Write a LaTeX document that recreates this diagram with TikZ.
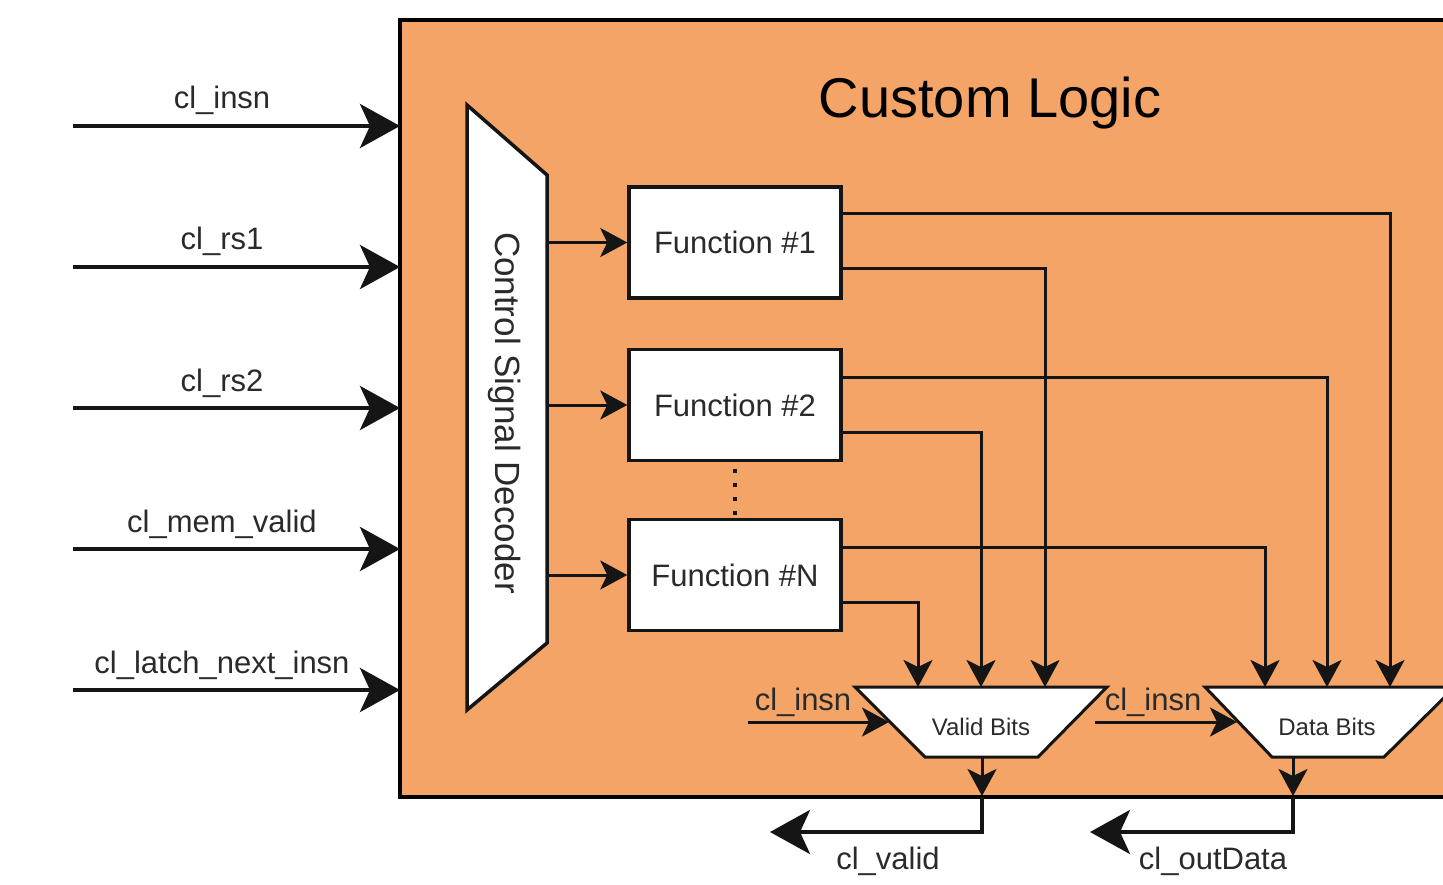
\documentclass[tikz,border=0pt]{standalone}
\usepackage{fontspec}
\setmainfont{Liberation Sans}
\usetikzlibrary{arrows.meta}
\definecolor{logicfill}{HTML}{F4A466}
\definecolor{ink}{HTML}{151515}
\definecolor{txt}{HTML}{2A2A2A}
\newcommand\lblfont{\fontsize{31}{36}\selectfont}
\begin{document}
\begin{tikzpicture}[x=1pt,y=-1pt,
  bigarrow/.style={line width=4.5pt, draw=ink, line join=miter,
    -{Stealth[length=40pt,width=44pt,inset=10pt]}},
  sig/.style={line width=3pt, draw=ink,
    -{Stealth[length=27pt,width=29pt,inset=7pt]}},
  lbl/.style={font=\lblfont, text=txt, anchor=base, inner sep=0pt},
  fbox/.style={draw=ink, line width=3.5pt, fill=white, minimum width=212pt,
    minimum height=111pt, font=\lblfont, text=txt, inner sep=0pt},
  muxshape/.style={draw=ink, line width=3pt, fill=white, line join=miter},
]
\useasboundingbox (0,0) rectangle (1443,885);
\clip (0,0) rectangle (1443,885);

% Custom logic block (runs past the right edge)
\path[fill=logicfill, draw=black, line width=3.5pt] (400,20) rectangle (1480,797);
\coordinate (logicW) at (400,0);
\coordinate (logicS) at (0,797);
\node[font=\fontsize{56}{60}\selectfont, text=black, anchor=base, inner sep=0pt]
  (title) at (990,118) {Custom Logic};

% Input ports on the left
\foreach \k/\y/\t in {1/126/cl\_insn, 2/267/cl\_rs1, 3/408/cl\_rs2,
                       4/549/cl\_mem\_valid, 5/690/cl\_latch\_next\_insn}{
  \coordinate (in\k) at (73,\y);
  \node[lbl] (in\k-lbl) at (222,\y-17) {\t};
  \draw[bigarrow] (in\k) -- (logicW |- in\k);
}

% Control signal decoder
\path[fill=white, draw=ink, line width=3.5pt, line join=miter]
  (467,105) -- (547,175) -- (547,643) -- (467,710) -- cycle;
\coordinate (decR) at (547,0);
\node[font=\fontsize{35}{40}\selectfont, text=txt, rotate=-90, inner sep=0pt]
  (dec) at (505,413) {Control Signal Decoder};

% Function units
\node[fbox] (f1) at (735,242.5) {Function \#1};
\node[fbox] (f2) at (735,405) {Function \#2};
\node[fbox] (fN) at (735,575) {Function \#N};
\draw[line width=4pt, draw=ink, dash pattern=on 4pt off 10pt, dash phase=-7pt]
  (f2.south) -- (fN.north);

\foreach \f in {f1,f2,fN}{
  \draw[sig] (decR |- \f.west) -- (\f.west);
}

% Output muxes
\path[muxshape] (855,687) -- (1107,687) -- (1038,757) -- (925,757) -- cycle;
\node[font=\fontsize{24}{28}\selectfont, text=txt] (vb) at (981,727) {Valid Bits};
\path[muxshape] (1205,687) -- (1455,687) -- (1384,757) -- (1272,757) -- cycle;
\node[font=\fontsize{24}{28}\selectfont, text=txt] (db) at (1327,727) {Data Bits};

\coordinate (v1) at (918,687);
\coordinate (v2) at (981,687);
\coordinate (v3) at (1045,687);
\coordinate (d1) at (1265,687);
\coordinate (d2) at (1327,687);
\coordinate (d3) at (1390,687);

\draw[sig] ([yshift=28.5pt]f1.east) -| (d3);
\draw[sig] ([yshift=-26.5pt]f1.east) -| (v3);
\draw[sig] ([yshift=28pt]f2.east) -| (d2);
\draw[sig] ([yshift=-27pt]f2.east) -| (v2);
\draw[sig] ([yshift=28pt]fN.east) -| (d1);
\draw[sig] ([yshift=-27pt]fN.east) -| (v1);

% cl_insn select inputs of the muxes
\coordinate (vsel) at (748,722);
\coordinate (vselE) at (889,722);
\coordinate (dsel) at (1095,722);
\coordinate (dselE) at (1237,722);
\draw[sig] (vsel) -- (vselE);
\draw[sig] (dsel) -- (dselE);
\node[lbl] (vsel-lbl) at (803,710) {cl\_insn};
\node[lbl] (dsel-lbl) at (1153,710) {cl\_insn};

% Mux outputs
\coordinate (vbot) at (982,757);
\coordinate (dbot) at (1293,757);
\coordinate (vout) at (vbot |- logicS);
\coordinate (dout) at (dbot |- logicS);
\coordinate (vturn) at (982,832);
\coordinate (dturn) at (1293,832);
\coordinate (vend) at (770,832);
\coordinate (dend) at (1090,832);
\draw[sig] (vbot) -- ([yshift=1pt]vout);
\draw[sig] (dbot) -- ([yshift=1pt]dout);
\draw[bigarrow] (vout) -- (vturn) -- (vend);
\draw[bigarrow] (dout) -- (dturn) -- (dend);
\node[lbl] (vend-lbl) at (888,869) {cl\_valid};
\node[lbl] (dend-lbl) at (1213,869) {cl\_outData};
\end{tikzpicture}
\end{document}
